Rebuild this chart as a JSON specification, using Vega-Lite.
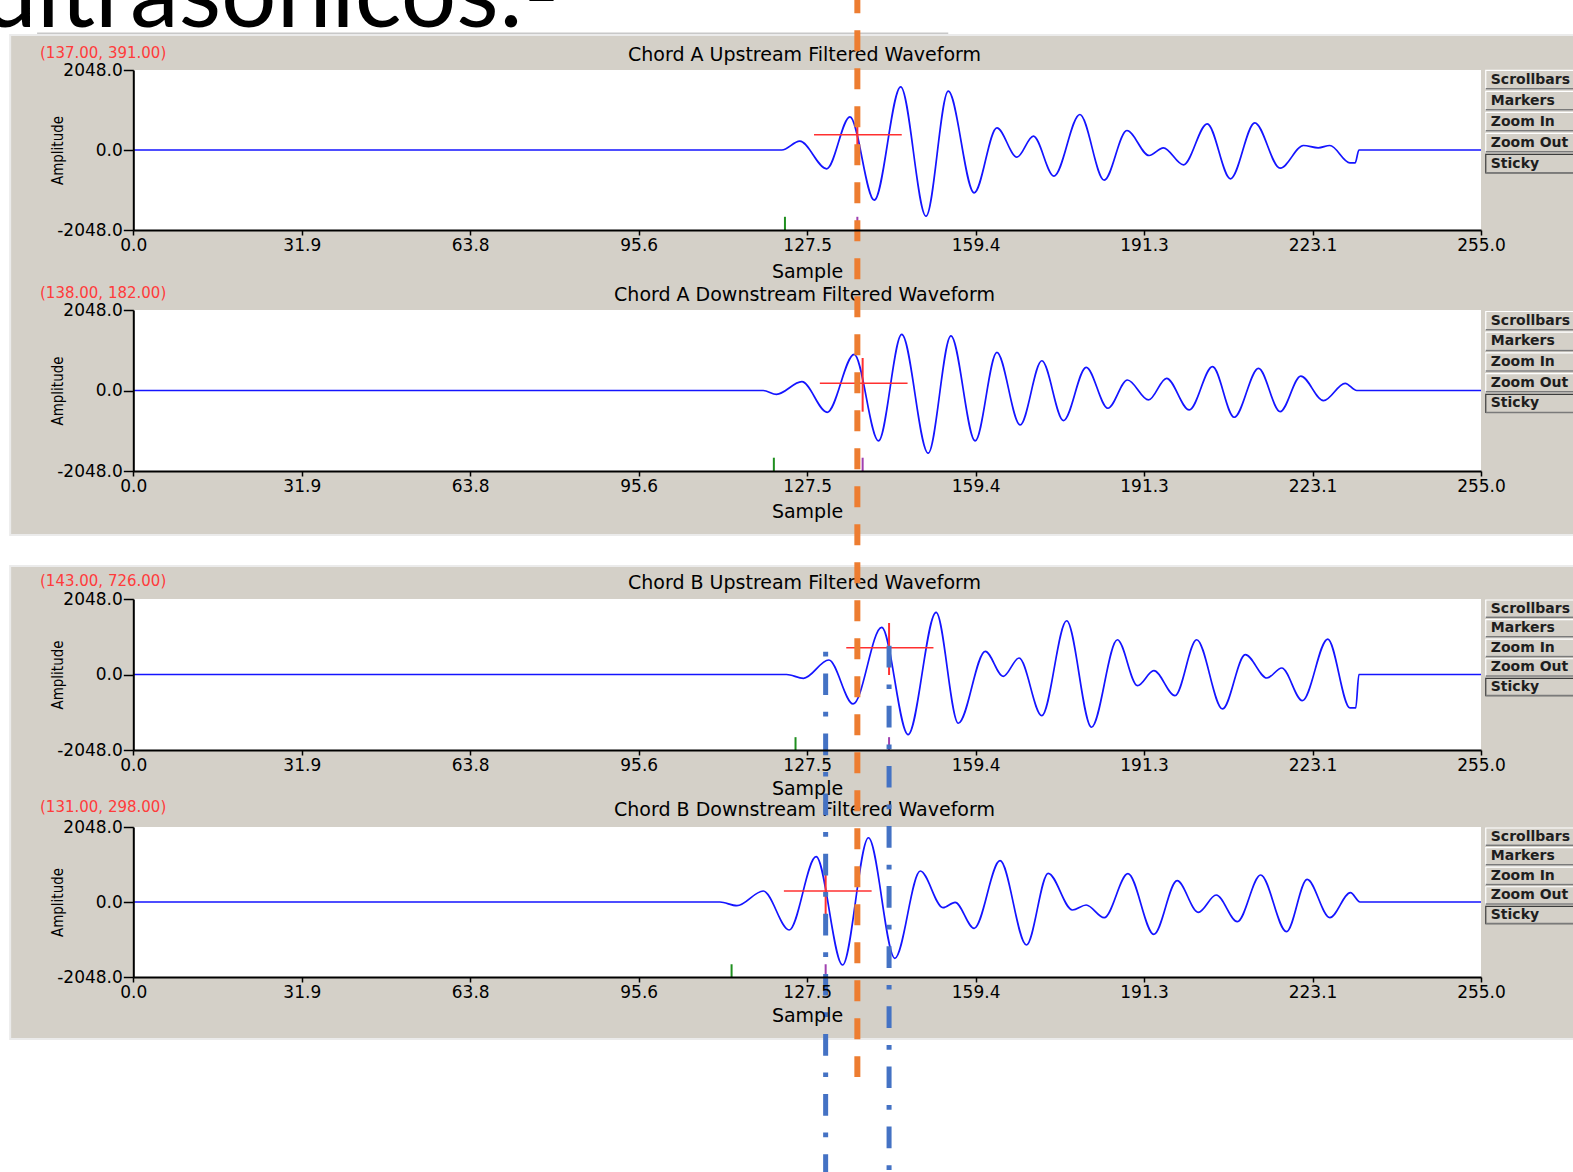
{
"$schema": "https://vega.github.io/schema/vega-lite/v6.json",
"width": 1573, "height": 1172,
"autosize": {"type": "none"},
"padding": 0,
"background": "white",
"config": {
  "view": {"stroke": null},
  "axis": {"grid": false, "domainColor": "#000000", "domainWidth": 2, "tickColor": "#000000", "tickWidth": 1.5, "labelColor": "#000000", "labelFont": "DejaVu Sans", "labelFontSize": 17, "titleFont": "DejaVu Sans", "titleFontSize": 19, "titleFontWeight": "normal", "titleColor": "#000000", "labelFlush": false, "labelOverlap": false},
  "text": {"font": "DejaVu Sans"}
},
"datasets": {
  "wave": [
    {"p":"A1","s":0,"a":0},{"p":"A1","s":122.7,"a":0},{"p":"A1","s":126.1,"a":225},{"p":"A1","s":131.2,"a":-481},{"p":"A1","s":135.6,"a":850},{"p":"A1","s":140.2,"a":-1285},{"p":"A1","s":145.2,"a":1618},{"p":"A1","s":150.0,"a":-1695},{"p":"A1","s":154.2,"a":1505},{"p":"A1","s":159.1,"a":-1096},{"p":"A1","s":163.4,"a":568},{"p":"A1","s":167.2,"a":-184},{"p":"A1","s":170.3,"a":353},{"p":"A1","s":174.2,"a":-671},{"p":"A1","s":179.1,"a":909},{"p":"A1","s":183.7,"a":-773},{"p":"A1","s":188.0,"a":499},{"p":"A1","s":192.2,"a":-141},{"p":"A1","s":194.9,"a":56},{"p":"A1","s":198.7,"a":-379},{"p":"A1","s":203.2,"a":671},{"p":"A1","s":207.6,"a":-737},{"p":"A1","s":212.2,"a":696},{"p":"A1","s":217.0,"a":-466},{"p":"A1","s":221.4,"a":115},{"p":"A1","s":224.2,"a":56},{"p":"A1","s":226.4,"a":115},{"p":"A1","s":230.2,"a":-328},{"p":"A1","s":231.2,"a":-328},{"p":"A1","s":231.9,"a":0},{"p":"A1","s":255,"a":0},
    {"p":"A2","s":0,"a":0},{"p":"A2","s":119.2,"a":0},{"p":"A2","s":121.7,"a":-97},{"p":"A2","s":126.5,"a":224},{"p":"A2","s":131.3,"a":-554},{"p":"A2","s":136.4,"a":919},{"p":"A2","s":141.0,"a":-1283},{"p":"A2","s":145.4,"a":1427},{"p":"A2","s":150.4,"a":-1595},{"p":"A2","s":154.7,"a":1392},{"p":"A2","s":159.3,"a":-1283},{"p":"A2","s":163.4,"a":970},{"p":"A2","s":167.8,"a":-876},{"p":"A2","s":171.9,"a":757},{"p":"A2","s":176.0,"a":-767},{"p":"A2","s":180.3,"a":589},{"p":"A2","s":184.4,"a":-452},{"p":"A2","s":188.1,"a":267},{"p":"A2","s":192.1,"a":-241},{"p":"A2","s":195.5,"a":310},{"p":"A2","s":199.8,"a":-495},{"p":"A2","s":204.2,"a":605},{"p":"A2","s":208.3,"a":-681},{"p":"A2","s":212.9,"a":564},{"p":"A2","s":217.0,"a":-538},{"p":"A2","s":220.9,"a":368},{"p":"A2","s":225.2,"a":-259},{"p":"A2","s":229.3,"a":183},{"p":"A2","s":231.5,"a":0},{"p":"A2","s":255,"a":0},
    {"p":"B1","s":0,"a":0},{"p":"B1","s":123.6,"a":0},{"p":"B1","s":126.8,"a":-103},{"p":"B1","s":131.6,"a":393},{"p":"B1","s":136.2,"a":-799},{"p":"B1","s":141.6,"a":1279},{"p":"B1","s":146.6,"a":-1631},{"p":"B1","s":151.9,"a":1686},{"p":"B1","s":156.1,"a":-1322},{"p":"B1","s":161.2,"a":629},{"p":"B1","s":164.6,"a":-49},{"p":"B1","s":167.6,"a":447},{"p":"B1","s":171.9,"a":-1117},{"p":"B1","s":176.6,"a":1458},{"p":"B1","s":181.3,"a":-1431},{"p":"B1","s":186.2,"a":943},{"p":"B1","s":190.0,"a":-304},{"p":"B1","s":193.1,"a":103},{"p":"B1","s":197.1,"a":-575},{"p":"B1","s":201.2,"a":943},{"p":"B1","s":206.1,"a":-935},{"p":"B1","s":210.4,"a":537},{"p":"B1","s":214.5,"a":-95},{"p":"B1","s":217.3,"a":176},{"p":"B1","s":221.2,"a":-710},{"p":"B1","s":226.0,"a":962},{"p":"B1","s":230.2,"a":-908},{"p":"B1","s":231.3,"a":-908},{"p":"B1","s":231.9,"a":0},{"p":"B1","s":255,"a":0},
    {"p":"B2","s":0,"a":0},{"p":"B2","s":111.0,"a":0},{"p":"B2","s":114.2,"a":-101},{"p":"B2","s":119.2,"a":300},{"p":"B2","s":124.1,"a":-764},{"p":"B2","s":129.2,"a":1237},{"p":"B2","s":134.2,"a":-1720},{"p":"B2","s":139.1,"a":1755},{"p":"B2","s":144.1,"a":-1537},{"p":"B2","s":148.9,"a":846},{"p":"B2","s":153.2,"a":-155},{"p":"B2","s":155.5,"a":-9},{"p":"B2","s":159.1,"a":-718},{"p":"B2","s":164.0,"a":1128},{"p":"B2","s":169.0,"a":-1174},{"p":"B2","s":173.1,"a":783},{"p":"B2","s":177.7,"a":-218},{"p":"B2","s":180.3,"a":-82},{"p":"B2","s":183.7,"a":-428},{"p":"B2","s":188.2,"a":774},{"p":"B2","s":193.1,"a":-882},{"p":"B2","s":197.5,"a":582},{"p":"B2","s":201.5,"a":-281},{"p":"B2","s":204.9,"a":191},{"p":"B2","s":208.9,"a":-538},{"p":"B2","s":213.3,"a":737},{"p":"B2","s":218.2,"a":-811},{"p":"B2","s":222.1,"a":620},{"p":"B2","s":226.4,"a":-428},{"p":"B2","s":230.3,"a":254},{"p":"B2","s":232.1,"a":0},{"p":"B2","s":255,"a":0}
  ],
  "panels": [
    {"p":"A1","title":"Chord A Upstream Filtered Waveform","cur":"(137.00, 391.00)","cx":137,"cy":391,"hx1":128.8,"hx2":145.4,"vlo":-289,"vhi":1071,"onset":123.3},
    {"p":"A2","title":"Chord A Downstream Filtered Waveform","cur":"(138.00, 182.00)","cx":138,"cy":182,"hx1":129.9,"hx2":146.5,"vlo":-539,"vhi":827,"onset":121.2},
    {"p":"B1","title":"Chord B Upstream Filtered Waveform","cur":"(143.00, 726.00)","cx":143,"cy":726,"hx1":134.9,"hx2":151.4,"vlo":-14,"vhi":1397,"onset":125.3},
    {"p":"B2","title":"Chord B Downstream Filtered Waveform","cur":"(131.00, 298.00)","cx":131,"cy":298,"hx1":123.1,"hx2":139.7,"vlo":-401,"vhi":964,"onset":113.2}
  ],
  "buttons": [{"btn":"Scrollbars"},{"btn":"Markers"},{"btn":"Zoom In"},{"btn":"Zoom Out"},{"btn":"Sticky"}]
},
"layer": [
  {"data":{"values":[{}]},"mark":{"type":"rect","fill":"#d4d0c8","stroke":"#ebebeb","strokeWidth":2},
   "encoding":{"x":{"datum":-23.3,"type":"quantitative","scale":{"domain":[0,255],"range":[133.3,1481],"nice":false,"zero":false},"axis":null},"x2":{"datum":290},
   "y":{"datum":2944,"type":"quantitative","scale":{"domain":[-2048,2048],"range":[230,70],"nice":false,"zero":false},"axis":null},"y2":{"datum":-9856}}},
  {"data":{"values":[{}]},"mark":{"type":"rect","fill":"#d4d0c8","stroke":"#ebebeb","strokeWidth":2},
   "encoding":{"x":{"datum":-23.3,"type":"quantitative","scale":{"domain":[0,255],"range":[133.3,1481],"nice":false,"zero":false},"axis":null},"x2":{"datum":290},
   "y":{"datum":2943,"type":"quantitative","scale":{"domain":[-2048,2048],"range":[750,599],"nice":false,"zero":false},"axis":null},"y2":{"datum":-9887}}},
  {"data":{"values":[{}]},"mark":{"type":"rule","color":"#c8c8c8","strokeWidth":1.5},
   "encoding":{"x":{"datum":-18.2,"type":"quantitative","scale":{"domain":[0,255],"range":[133.3,1481],"nice":false,"zero":false},"axis":null},"x2":{"datum":154.2},
   "y":{"datum":2988,"type":"quantitative","scale":{"domain":[-2048,2048],"range":[230,70],"nice":false,"zero":false},"axis":null}}},
  {"data":{"values":[{}]},"mark":{"type":"text","font":"Lato","fontSize":98,"align":"left","baseline":"alphabetic","color":"#000000"},
   "encoding":{"x":{"datum":-28.6,"type":"quantitative","scale":{"domain":[0,255],"range":[133.3,1481],"nice":false,"zero":false},"axis":null},
   "y":{"datum":3149,"type":"quantitative","scale":{"domain":[-2048,2048],"range":[230,70],"nice":false,"zero":false},"axis":null},"text":{"value":"ultrasónicos:-"}}},

  {"data":{"values":[{}]},"mark":{"type":"rect","fill":"#ffffff"},
   "encoding":{"x":{"datum":0,"type":"quantitative","scale":{"domain":[0,255],"range":[133.3,1481],"nice":false,"zero":false},"axis":null},"x2":{"datum":255},
   "y":{"datum":-2048,"type":"quantitative","scale":{"domain":[-2048,2048],"range":[230,70],"nice":false,"zero":false},"axis":null},"y2":{"datum":2048}}},
  {"data":{"name":"panels"},"transform":[{"filter":"datum.p === 'A1'"}],"mark":{"type":"rule","color":"#1f8f1f","strokeWidth":2},
   "encoding":{"x":{"field":"onset","type":"quantitative","scale":{"domain":[0,255],"range":[133.3,1481],"nice":false,"zero":false},"axis":null},
   "y":{"datum":-2048,"type":"quantitative","scale":{"domain":[-2048,2048],"range":[230,70],"nice":false,"zero":false},"axis":null},"y2":{"datum":-1710}}},
  {"data":{"name":"panels"},"transform":[{"filter":"datum.p === 'A1'"}],"mark":{"type":"rule","color":"#a040b0","strokeWidth":2},
   "encoding":{"x":{"field":"cx","type":"quantitative","scale":{"domain":[0,255],"range":[133.3,1481],"nice":false,"zero":false},"axis":null},
   "y":{"datum":-2048,"type":"quantitative","scale":{"domain":[-2048,2048],"range":[230,70],"nice":false,"zero":false},"axis":null},"y2":{"datum":-1710}}},
  {"data":{"name":"wave"},"transform":[{"filter":"datum.p === 'A1'"}],"mark":{"type":"line","color":"#1414ff","strokeWidth":1.7,"interpolate":"monotone"},
   "encoding":{"x":{"field":"s","type":"quantitative","scale":{"domain":[0,255],"range":[133.3,1481],"nice":false,"zero":false},
     "axis":{"zindex":1,"orient":"bottom","offset":-942,"values":[0,31.875,63.75,95.625,127.5,159.375,191.25,223.125,255],"format":".1f","tickSize":5,"labelPadding":2,"title":"Sample","titleX":807,"titleY":41,"titleAlign":"center","titleBaseline":"middle","titleAngle":0}},
   "y":{"field":"a","type":"quantitative","scale":{"domain":[-2048,2048],"range":[230,70],"nice":false,"zero":false},
     "axis":{"zindex":1,"orient":"left","offset":-133.3,"values":[-2048,0,2048],"format":".1f","labelExpr":"replace(datum.label, '−', '-')","tickSize":10,"labelPadding":1,"title":"Amplitude","titleX":-76,"titleY":150,"titleAngle":270,"titleAlign":"center","titleBaseline":"middle","titleFont":"DejaVu Sans Condensed","titleFontSize":15}}}},
  {"data":{"name":"panels"},"transform":[{"filter":"datum.p === 'A1'"}],"mark":{"type":"rule","color":"#ff3030","strokeWidth":1.5},
   "encoding":{"x":{"field":"hx1","type":"quantitative","scale":{"domain":[0,255],"range":[133.3,1481],"nice":false,"zero":false},"axis":null},"x2":{"field":"hx2"},
   "y":{"field":"cy","type":"quantitative","scale":{"domain":[-2048,2048],"range":[230,70],"nice":false,"zero":false},"axis":null}}},
  {"data":{"name":"panels"},"transform":[{"filter":"datum.p === 'A1'"}],"mark":{"type":"rule","color":"#ff3030","strokeWidth":2},
   "encoding":{"x":{"field":"cx","type":"quantitative","scale":{"domain":[0,255],"range":[133.3,1481],"nice":false,"zero":false},"axis":null},
   "y":{"field":"vlo","type":"quantitative","scale":{"domain":[-2048,2048],"range":[230,70],"nice":false,"zero":false},"axis":null},"y2":{"field":"vhi"}}},
  {"data":{"name":"panels"},"transform":[{"filter":"datum.p === 'A1'"}],"mark":{"type":"text","fontSize":19,"align":"center","baseline":"middle","dy":-15,"color":"#000000"},
   "encoding":{"x":{"datum":127,"type":"quantitative","scale":{"domain":[0,255],"range":[133.3,1481],"nice":false,"zero":false},"axis":null},
   "y":{"datum":2048,"type":"quantitative","scale":{"domain":[-2048,2048],"range":[230,70],"nice":false,"zero":false},"axis":null},"text":{"field":"title"}}},
  {"data":{"name":"panels"},"transform":[{"filter":"datum.p === 'A1'"}],"mark":{"type":"text","fontSize":15,"align":"left","baseline":"middle","dy":-17,"color":"#ff3b3b"},
   "encoding":{"x":{"datum":-17.65,"type":"quantitative","scale":{"domain":[0,255],"range":[133.3,1481],"nice":false,"zero":false},"axis":null},
   "y":{"datum":2048,"type":"quantitative","scale":{"domain":[-2048,2048],"range":[230,70],"nice":false,"zero":false},"axis":null},"text":{"field":"cur"}}},
  {"data":{"name":"buttons"},
   "encoding":{"y":{"field":"btn","type":"nominal","sort":null,"scale":{"domain":["Scrollbars","Markers","Zoom In","Zoom Out","Sticky"],"range":[70.3,172.8],"paddingInner":0.12,"paddingOuter":0},"axis":null},
     "x":{"datum":255.9,"type":"quantitative","scale":{"domain":[0,255],"range":[133.3,1481],"nice":false,"zero":false},"axis":null}},
   "layer":[
     {"mark":{"type":"rect","fill":"#d4d0c8","strokeWidth":1.2},"encoding":{"x2":{"datum":290},"stroke":{"condition":{"test":"datum.btn === 'Sticky'","value":"#3c3c3c"},"value":"#ffffff"}}},
     {"mark":{"type":"rule","color":"#7a7a7a","strokeWidth":1.5},"encoding":{"y":{"field":"btn","type":"nominal","sort":null,"bandPosition":1,"scale":{"domain":["Scrollbars","Markers","Zoom In","Zoom Out","Sticky"],"range":[70.3,172.8],"paddingInner":0.12,"paddingOuter":0},"axis":null},"x2":{"datum":290}}},
     {"mark":{"type":"text","align":"left","baseline":"middle","fontWeight":"bold","fontSize":14,"color":"#1e1e1e"},"encoding":{"x":{"datum":256.85,"type":"quantitative","scale":{"domain":[0,255],"range":[133.3,1481],"nice":false,"zero":false},"axis":null},"text":{"field":"btn"}}}
   ]},

  {"data":{"values":[{}]},"mark":{"type":"rect","fill":"#ffffff"},
   "encoding":{"x":{"datum":0,"type":"quantitative","scale":{"domain":[0,255],"range":[133.3,1481],"nice":false,"zero":false},"axis":null},"x2":{"datum":255},
   "y":{"datum":-2048,"type":"quantitative","scale":{"domain":[-2048,2048],"range":[471,310],"nice":false,"zero":false},"axis":null},"y2":{"datum":2048}}},
  {"data":{"name":"panels"},"transform":[{"filter":"datum.p === 'A2'"}],"mark":{"type":"rule","color":"#1f8f1f","strokeWidth":2},
   "encoding":{"x":{"field":"onset","type":"quantitative","scale":{"domain":[0,255],"range":[133.3,1481],"nice":false,"zero":false},"axis":null},
   "y":{"datum":-2048,"type":"quantitative","scale":{"domain":[-2048,2048],"range":[471,310],"nice":false,"zero":false},"axis":null},"y2":{"datum":-1710}}},
  {"data":{"name":"panels"},"transform":[{"filter":"datum.p === 'A2'"}],"mark":{"type":"rule","color":"#a040b0","strokeWidth":2},
   "encoding":{"x":{"field":"cx","type":"quantitative","scale":{"domain":[0,255],"range":[133.3,1481],"nice":false,"zero":false},"axis":null},
   "y":{"datum":-2048,"type":"quantitative","scale":{"domain":[-2048,2048],"range":[471,310],"nice":false,"zero":false},"axis":null},"y2":{"datum":-1710}}},
  {"data":{"name":"wave"},"transform":[{"filter":"datum.p === 'A2'"}],"mark":{"type":"line","color":"#1414ff","strokeWidth":1.7,"interpolate":"monotone"},
   "encoding":{"x":{"field":"s","type":"quantitative","scale":{"domain":[0,255],"range":[133.3,1481],"nice":false,"zero":false},
     "axis":{"zindex":1,"orient":"bottom","offset":-701,"values":[0,31.875,63.75,95.625,127.5,159.375,191.25,223.125,255],"format":".1f","tickSize":5,"labelPadding":2,"title":"Sample","titleX":807,"titleY":40,"titleAlign":"center","titleBaseline":"middle","titleAngle":0}},
   "y":{"field":"a","type":"quantitative","scale":{"domain":[-2048,2048],"range":[471,310],"nice":false,"zero":false},
     "axis":{"zindex":1,"orient":"left","offset":-133.3,"values":[-2048,0,2048],"format":".1f","labelExpr":"replace(datum.label, '−', '-')","tickSize":10,"labelPadding":1,"title":"Amplitude","titleX":-76,"titleY":390.5,"titleAngle":270,"titleAlign":"center","titleBaseline":"middle","titleFont":"DejaVu Sans Condensed","titleFontSize":15}}}},
  {"data":{"name":"panels"},"transform":[{"filter":"datum.p === 'A2'"}],"mark":{"type":"rule","color":"#ff3030","strokeWidth":1.5},
   "encoding":{"x":{"field":"hx1","type":"quantitative","scale":{"domain":[0,255],"range":[133.3,1481],"nice":false,"zero":false},"axis":null},"x2":{"field":"hx2"},
   "y":{"field":"cy","type":"quantitative","scale":{"domain":[-2048,2048],"range":[471,310],"nice":false,"zero":false},"axis":null}}},
  {"data":{"name":"panels"},"transform":[{"filter":"datum.p === 'A2'"}],"mark":{"type":"rule","color":"#ff3030","strokeWidth":2},
   "encoding":{"x":{"field":"cx","type":"quantitative","scale":{"domain":[0,255],"range":[133.3,1481],"nice":false,"zero":false},"axis":null},
   "y":{"field":"vlo","type":"quantitative","scale":{"domain":[-2048,2048],"range":[471,310],"nice":false,"zero":false},"axis":null},"y2":{"field":"vhi"}}},
  {"data":{"name":"panels"},"transform":[{"filter":"datum.p === 'A2'"}],"mark":{"type":"text","fontSize":19,"align":"center","baseline":"middle","dy":-15,"color":"#000000"},
   "encoding":{"x":{"datum":127,"type":"quantitative","scale":{"domain":[0,255],"range":[133.3,1481],"nice":false,"zero":false},"axis":null},
   "y":{"datum":2048,"type":"quantitative","scale":{"domain":[-2048,2048],"range":[471,310],"nice":false,"zero":false},"axis":null},"text":{"field":"title"}}},
  {"data":{"name":"panels"},"transform":[{"filter":"datum.p === 'A2'"}],"mark":{"type":"text","fontSize":15,"align":"left","baseline":"middle","dy":-17,"color":"#ff3b3b"},
   "encoding":{"x":{"datum":-17.65,"type":"quantitative","scale":{"domain":[0,255],"range":[133.3,1481],"nice":false,"zero":false},"axis":null},
   "y":{"datum":2048,"type":"quantitative","scale":{"domain":[-2048,2048],"range":[471,310],"nice":false,"zero":false},"axis":null},"text":{"field":"cur"}}},
  {"data":{"name":"buttons"},
   "encoding":{"y":{"field":"btn","type":"nominal","sort":null,"scale":{"domain":["Scrollbars","Markers","Zoom In","Zoom Out","Sticky"],"range":[311.5,412.5],"paddingInner":0.12,"paddingOuter":0},"axis":null},
     "x":{"datum":255.9,"type":"quantitative","scale":{"domain":[0,255],"range":[133.3,1481],"nice":false,"zero":false},"axis":null}},
   "layer":[
     {"mark":{"type":"rect","fill":"#d4d0c8","strokeWidth":1.2},"encoding":{"x2":{"datum":290},"stroke":{"condition":{"test":"datum.btn === 'Sticky'","value":"#3c3c3c"},"value":"#ffffff"}}},
     {"mark":{"type":"rule","color":"#7a7a7a","strokeWidth":1.5},"encoding":{"y":{"field":"btn","type":"nominal","sort":null,"bandPosition":1,"scale":{"domain":["Scrollbars","Markers","Zoom In","Zoom Out","Sticky"],"range":[311.5,412.5],"paddingInner":0.12,"paddingOuter":0},"axis":null},"x2":{"datum":290}}},
     {"mark":{"type":"text","align":"left","baseline":"middle","fontWeight":"bold","fontSize":14,"color":"#1e1e1e"},"encoding":{"x":{"datum":256.85,"type":"quantitative","scale":{"domain":[0,255],"range":[133.3,1481],"nice":false,"zero":false},"axis":null},"text":{"field":"btn"}}}
   ]},

  {"data":{"values":[{}]},"mark":{"type":"rect","fill":"#ffffff"},
   "encoding":{"x":{"datum":0,"type":"quantitative","scale":{"domain":[0,255],"range":[133.3,1481],"nice":false,"zero":false},"axis":null},"x2":{"datum":255},
   "y":{"datum":-2048,"type":"quantitative","scale":{"domain":[-2048,2048],"range":[750,599],"nice":false,"zero":false},"axis":null},"y2":{"datum":2048}}},
  {"data":{"name":"panels"},"transform":[{"filter":"datum.p === 'B1'"}],"mark":{"type":"rule","color":"#1f8f1f","strokeWidth":2},
   "encoding":{"x":{"field":"onset","type":"quantitative","scale":{"domain":[0,255],"range":[133.3,1481],"nice":false,"zero":false},"axis":null},
   "y":{"datum":-2048,"type":"quantitative","scale":{"domain":[-2048,2048],"range":[750,599],"nice":false,"zero":false},"axis":null},"y2":{"datum":-1700}}},
  {"data":{"name":"panels"},"transform":[{"filter":"datum.p === 'B1'"}],"mark":{"type":"rule","color":"#a040b0","strokeWidth":2},
   "encoding":{"x":{"field":"cx","type":"quantitative","scale":{"domain":[0,255],"range":[133.3,1481],"nice":false,"zero":false},"axis":null},
   "y":{"datum":-2048,"type":"quantitative","scale":{"domain":[-2048,2048],"range":[750,599],"nice":false,"zero":false},"axis":null},"y2":{"datum":-1700}}},
  {"data":{"name":"wave"},"transform":[{"filter":"datum.p === 'B1'"}],"mark":{"type":"line","color":"#1414ff","strokeWidth":1.7,"interpolate":"monotone"},
   "encoding":{"x":{"field":"s","type":"quantitative","scale":{"domain":[0,255],"range":[133.3,1481],"nice":false,"zero":false},
     "axis":{"zindex":1,"orient":"bottom","offset":-422,"values":[0,31.875,63.75,95.625,127.5,159.375,191.25,223.125,255],"format":".1f","tickSize":5,"labelPadding":2,"title":"Sample","titleX":807,"titleY":38,"titleAlign":"center","titleBaseline":"middle","titleAngle":0}},
   "y":{"field":"a","type":"quantitative","scale":{"domain":[-2048,2048],"range":[750,599],"nice":false,"zero":false},
     "axis":{"zindex":1,"orient":"left","offset":-133.3,"values":[-2048,0,2048],"format":".1f","labelExpr":"replace(datum.label, '−', '-')","tickSize":10,"labelPadding":1,"title":"Amplitude","titleX":-76,"titleY":674.5,"titleAngle":270,"titleAlign":"center","titleBaseline":"middle","titleFont":"DejaVu Sans Condensed","titleFontSize":15}}}},
  {"data":{"name":"panels"},"transform":[{"filter":"datum.p === 'B1'"}],"mark":{"type":"rule","color":"#ff3030","strokeWidth":1.5},
   "encoding":{"x":{"field":"hx1","type":"quantitative","scale":{"domain":[0,255],"range":[133.3,1481],"nice":false,"zero":false},"axis":null},"x2":{"field":"hx2"},
   "y":{"field":"cy","type":"quantitative","scale":{"domain":[-2048,2048],"range":[750,599],"nice":false,"zero":false},"axis":null}}},
  {"data":{"name":"panels"},"transform":[{"filter":"datum.p === 'B1'"}],"mark":{"type":"rule","color":"#ff3030","strokeWidth":2},
   "encoding":{"x":{"field":"cx","type":"quantitative","scale":{"domain":[0,255],"range":[133.3,1481],"nice":false,"zero":false},"axis":null},
   "y":{"field":"vlo","type":"quantitative","scale":{"domain":[-2048,2048],"range":[750,599],"nice":false,"zero":false},"axis":null},"y2":{"field":"vhi"}}},
  {"data":{"name":"panels"},"transform":[{"filter":"datum.p === 'B1'"}],"mark":{"type":"text","fontSize":19,"align":"center","baseline":"middle","dy":-16,"color":"#000000"},
   "encoding":{"x":{"datum":127,"type":"quantitative","scale":{"domain":[0,255],"range":[133.3,1481],"nice":false,"zero":false},"axis":null},
   "y":{"datum":2048,"type":"quantitative","scale":{"domain":[-2048,2048],"range":[750,599],"nice":false,"zero":false},"axis":null},"text":{"field":"title"}}},
  {"data":{"name":"panels"},"transform":[{"filter":"datum.p === 'B1'"}],"mark":{"type":"text","fontSize":15,"align":"left","baseline":"middle","dy":-18,"color":"#ff3b3b"},
   "encoding":{"x":{"datum":-17.65,"type":"quantitative","scale":{"domain":[0,255],"range":[133.3,1481],"nice":false,"zero":false},"axis":null},
   "y":{"datum":2048,"type":"quantitative","scale":{"domain":[-2048,2048],"range":[750,599],"nice":false,"zero":false},"axis":null},"text":{"field":"cur"}}},
  {"data":{"name":"buttons"},
   "encoding":{"y":{"field":"btn","type":"nominal","sort":null,"scale":{"domain":["Scrollbars","Markers","Zoom In","Zoom Out","Sticky"],"range":[600,695.6],"paddingInner":0.12,"paddingOuter":0},"axis":null},
     "x":{"datum":255.9,"type":"quantitative","scale":{"domain":[0,255],"range":[133.3,1481],"nice":false,"zero":false},"axis":null}},
   "layer":[
     {"mark":{"type":"rect","fill":"#d4d0c8","strokeWidth":1.2},"encoding":{"x2":{"datum":290},"stroke":{"condition":{"test":"datum.btn === 'Sticky'","value":"#3c3c3c"},"value":"#ffffff"}}},
     {"mark":{"type":"rule","color":"#7a7a7a","strokeWidth":1.5},"encoding":{"y":{"field":"btn","type":"nominal","sort":null,"bandPosition":1,"scale":{"domain":["Scrollbars","Markers","Zoom In","Zoom Out","Sticky"],"range":[600,695.6],"paddingInner":0.12,"paddingOuter":0},"axis":null},"x2":{"datum":290}}},
     {"mark":{"type":"text","align":"left","baseline":"middle","fontWeight":"bold","fontSize":14,"color":"#1e1e1e"},"encoding":{"x":{"datum":256.85,"type":"quantitative","scale":{"domain":[0,255],"range":[133.3,1481],"nice":false,"zero":false},"axis":null},"text":{"field":"btn"}}}
   ]},

  {"data":{"values":[{}]},"mark":{"type":"rect","fill":"#ffffff"},
   "encoding":{"x":{"datum":0,"type":"quantitative","scale":{"domain":[0,255],"range":[133.3,1481],"nice":false,"zero":false},"axis":null},"x2":{"datum":255},
   "y":{"datum":-2048,"type":"quantitative","scale":{"domain":[-2048,2048],"range":[977,827],"nice":false,"zero":false},"axis":null},"y2":{"datum":2048}}},
  {"data":{"name":"panels"},"transform":[{"filter":"datum.p === 'B2'"}],"mark":{"type":"rule","color":"#1f8f1f","strokeWidth":2},
   "encoding":{"x":{"field":"onset","type":"quantitative","scale":{"domain":[0,255],"range":[133.3,1481],"nice":false,"zero":false},"axis":null},
   "y":{"datum":-2048,"type":"quantitative","scale":{"domain":[-2048,2048],"range":[977,827],"nice":false,"zero":false},"axis":null},"y2":{"datum":-1700}}},
  {"data":{"name":"panels"},"transform":[{"filter":"datum.p === 'B2'"}],"mark":{"type":"rule","color":"#a040b0","strokeWidth":2},
   "encoding":{"x":{"field":"cx","type":"quantitative","scale":{"domain":[0,255],"range":[133.3,1481],"nice":false,"zero":false},"axis":null},
   "y":{"datum":-2048,"type":"quantitative","scale":{"domain":[-2048,2048],"range":[977,827],"nice":false,"zero":false},"axis":null},"y2":{"datum":-1700}}},
  {"data":{"name":"wave"},"transform":[{"filter":"datum.p === 'B2'"}],"mark":{"type":"line","color":"#1414ff","strokeWidth":1.7,"interpolate":"monotone"},
   "encoding":{"x":{"field":"s","type":"quantitative","scale":{"domain":[0,255],"range":[133.3,1481],"nice":false,"zero":false},
     "axis":{"zindex":1,"orient":"bottom","offset":-195,"values":[0,31.875,63.75,95.625,127.5,159.375,191.25,223.125,255],"format":".1f","tickSize":5,"labelPadding":2,"title":"Sample","titleX":807,"titleY":38,"titleAlign":"center","titleBaseline":"middle","titleAngle":0}},
   "y":{"field":"a","type":"quantitative","scale":{"domain":[-2048,2048],"range":[977,827],"nice":false,"zero":false},
     "axis":{"zindex":1,"orient":"left","offset":-133.3,"values":[-2048,0,2048],"format":".1f","labelExpr":"replace(datum.label, '−', '-')","tickSize":10,"labelPadding":1,"title":"Amplitude","titleX":-76,"titleY":902,"titleAngle":270,"titleAlign":"center","titleBaseline":"middle","titleFont":"DejaVu Sans Condensed","titleFontSize":15}}}},
  {"data":{"name":"panels"},"transform":[{"filter":"datum.p === 'B2'"}],"mark":{"type":"rule","color":"#ff3030","strokeWidth":1.5},
   "encoding":{"x":{"field":"hx1","type":"quantitative","scale":{"domain":[0,255],"range":[133.3,1481],"nice":false,"zero":false},"axis":null},"x2":{"field":"hx2"},
   "y":{"field":"cy","type":"quantitative","scale":{"domain":[-2048,2048],"range":[977,827],"nice":false,"zero":false},"axis":null}}},
  {"data":{"name":"panels"},"transform":[{"filter":"datum.p === 'B2'"}],"mark":{"type":"rule","color":"#ff3030","strokeWidth":2},
   "encoding":{"x":{"field":"cx","type":"quantitative","scale":{"domain":[0,255],"range":[133.3,1481],"nice":false,"zero":false},"axis":null},
   "y":{"field":"vlo","type":"quantitative","scale":{"domain":[-2048,2048],"range":[977,827],"nice":false,"zero":false},"axis":null},"y2":{"field":"vhi"}}},
  {"data":{"name":"panels"},"transform":[{"filter":"datum.p === 'B2'"}],"mark":{"type":"text","fontSize":19,"align":"center","baseline":"middle","dy":-17,"color":"#000000"},
   "encoding":{"x":{"datum":127,"type":"quantitative","scale":{"domain":[0,255],"range":[133.3,1481],"nice":false,"zero":false},"axis":null},
   "y":{"datum":2048,"type":"quantitative","scale":{"domain":[-2048,2048],"range":[977,827],"nice":false,"zero":false},"axis":null},"text":{"field":"title"}}},
  {"data":{"name":"panels"},"transform":[{"filter":"datum.p === 'B2'"}],"mark":{"type":"text","fontSize":15,"align":"left","baseline":"middle","dy":-20,"color":"#ff3b3b"},
   "encoding":{"x":{"datum":-17.65,"type":"quantitative","scale":{"domain":[0,255],"range":[133.3,1481],"nice":false,"zero":false},"axis":null},
   "y":{"datum":2048,"type":"quantitative","scale":{"domain":[-2048,2048],"range":[977,827],"nice":false,"zero":false},"axis":null},"text":{"field":"cur"}}},
  {"data":{"name":"buttons"},
   "encoding":{"y":{"field":"btn","type":"nominal","sort":null,"scale":{"domain":["Scrollbars","Markers","Zoom In","Zoom Out","Sticky"],"range":[828,923.6],"paddingInner":0.12,"paddingOuter":0},"axis":null},
     "x":{"datum":255.9,"type":"quantitative","scale":{"domain":[0,255],"range":[133.3,1481],"nice":false,"zero":false},"axis":null}},
   "layer":[
     {"mark":{"type":"rect","fill":"#d4d0c8","strokeWidth":1.2},"encoding":{"x2":{"datum":290},"stroke":{"condition":{"test":"datum.btn === 'Sticky'","value":"#3c3c3c"},"value":"#ffffff"}}},
     {"mark":{"type":"rule","color":"#7a7a7a","strokeWidth":1.5},"encoding":{"y":{"field":"btn","type":"nominal","sort":null,"bandPosition":1,"scale":{"domain":["Scrollbars","Markers","Zoom In","Zoom Out","Sticky"],"range":[828,923.6],"paddingInner":0.12,"paddingOuter":0},"axis":null},"x2":{"datum":290}}},
     {"mark":{"type":"text","align":"left","baseline":"middle","fontWeight":"bold","fontSize":14,"color":"#1e1e1e"},"encoding":{"x":{"datum":256.85,"type":"quantitative","scale":{"domain":[0,255],"range":[133.3,1481],"nice":false,"zero":false},"axis":null},"text":{"field":"btn"}}}
   ]},

  {"data":{"values":[{}]},"mark":{"type":"rule","color":"#ED7D31","strokeWidth":6,"strokeDash":[21,17],"strokeCap":"butt"},
   "encoding":{"x":{"datum":137,"type":"quantitative","scale":{"domain":[0,255],"range":[133.3,1481],"nice":false,"zero":false},"axis":null},
   "y":{"datum":24841,"type":"quantitative","scale":{"domain":[-2048,2048],"range":[977,827],"nice":false,"zero":false},"axis":null},"y2":{"datum":-4779}}},
  {"data":{"values":[{}]},"mark":{"type":"rule","color":"#4472C4","strokeWidth":5,"strokeDash":[4.7,17,21.7,16.7],"strokeCap":"butt"},
   "encoding":{"x":{"datum":131,"type":"quantitative","scale":{"domain":[0,255],"range":[133.3,1481],"nice":false,"zero":false},"axis":null},
   "y":{"datum":6835,"type":"quantitative","scale":{"domain":[-2048,2048],"range":[977,827],"nice":false,"zero":false},"axis":null},"y2":{"datum":-7600}}},
  {"data":{"values":[{}]},"mark":{"type":"rule","color":"#4472C4","strokeWidth":5,"strokeDash":[21.7,17,4.7,16.7],"strokeCap":"butt"},
   "encoding":{"x":{"datum":143,"type":"quantitative","scale":{"domain":[0,255],"range":[133.3,1481],"nice":false,"zero":false},"axis":null},
   "y":{"datum":6999,"type":"quantitative","scale":{"domain":[-2048,2048],"range":[977,827],"nice":false,"zero":false},"axis":null},"y2":{"datum":-7600}}}
],
"resolve": {"scale": {"x": "independent", "y": "independent"}, "axis": {"x": "independent", "y": "independent"}}
}
